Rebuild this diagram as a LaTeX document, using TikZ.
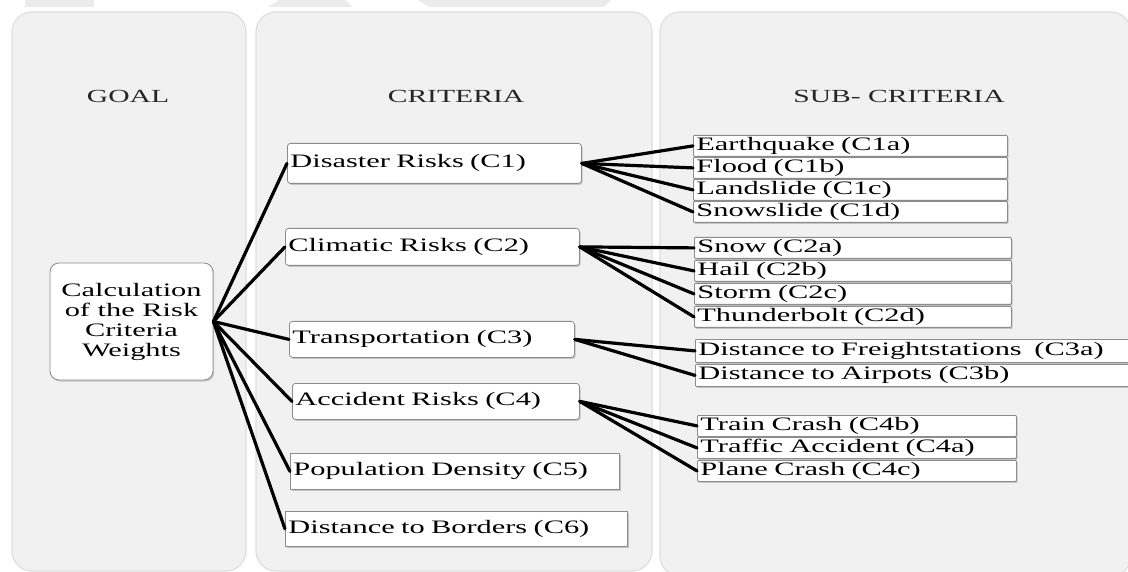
\documentclass[tikz,border=0pt]{standalone}
\usepackage{fontspec}
\setmainfont{Liberation Serif}[FakeStretch=1.6]
\usetikzlibrary{shadows}
\definecolor{panelgray}{HTML}{F1F1F1}
\definecolor{fraggray}{HTML}{EBEBEB}
\begin{document}
\begin{tikzpicture}[x=1pt,y=-1pt,
  panel/.style={fill=panelgray, draw=black!13, line width=1.2pt, rounded corners=20pt},
  frag/.style={fill=fraggray, draw=none},
  hdr/.style={font=\fontsize{18.5}{20}\selectfont, text=black!85, inner sep=0pt},
  box/.style={draw=black!45, fill=white, line width=0.8pt, anchor=north west,
    inner xsep=3pt, inner ysep=0pt, align=left, font=\fontsize{19}{20}\selectfont,
    drop shadow={shadow xshift=1.2pt, shadow yshift=-1.5pt, fill=black!40, opacity=0.5}},
  crit/.style={box, rounded corners=3pt},
  flat/.style={box, rounded corners=0pt},
  sub/.style={box, rounded corners=1pt},
  goalbox/.style={draw=black!45, fill=white, line width=0.8pt, rounded corners=9pt,
    align=center, font=\fontsize{19}{20}\selectfont, inner sep=0pt,
    drop shadow={shadow xshift=1.2pt, shadow yshift=-1.5pt, fill=black!40, opacity=0.5}},
  link/.style={line width=3.2pt, line cap=round}
]
\useasboundingbox (0,0) rectangle (1128,572);
\fill[white] (0,0) rectangle (1128,572);
% fragments of figure above
\path[frag] (25,0) rectangle (94,7);
\path[frag] (268,7) -- (279,0) -- (345,0) -- (352,7) -- cycle;
\path[frag] (417,0) -- (611,0) -- (604,7) -- (430,7) -- cycle;
% panels
\path[panel] (12,12) rectangle (246,571);
\path[panel] (256,12) rectangle (652,571);
\path[panel] (660,12) rectangle (1131,576);
% headers
\node[hdr] (hgoal) at (128,96) {GOAL};
\node[hdr] (hcrit) at (456,96) {CRITERIA};
\node[hdr] (hsub) at (899,96) {SUB- CRITERIA};
% goal
\node[goalbox, minimum width=163pt, minimum height=117pt] (goal) at (131.5,321.5)
  {Calculation\\of the Risk\\Criteria\\Weights};
% criteria
\node[crit, text width=288pt, minimum height=40pt] (c1) at (287,143) {Disaster Risks (C1)};
\node[crit, text width=288pt, minimum height=37pt] (c2) at (285,228) {Climatic Risks (C2)};
\node[crit, text width=279pt, minimum height=36pt] (c3) at (289,321) {Transportation (C3)};
\node[crit, text width=281pt, minimum height=36pt] (c4) at (292,383) {Accident Risks (C4)};
\node[flat, text width=323pt, minimum height=36pt] (c5) at (290,453) {Population Density (C5)};
\node[flat, text width=336pt, minimum height=35pt] (c6) at (285,511) {Distance to Borders (C6)};
% sub-criteria
\node[sub, text width=308pt, minimum height=21pt] (s1a) at (693,135) {Earthquake (C1a)};
\node[sub, text width=308pt, minimum height=21pt] (s1b) at (693,157) {Flood (C1b)};
\node[sub, text width=308pt, minimum height=21pt] (s1c) at (693,179) {Landslide (C1c)};
\node[sub, text width=308pt, minimum height=21pt] (s1d) at (693,201) {Snowslide (C1d)};
\node[sub, text width=311pt, minimum height=21pt] (s2a) at (694,237) {Snow (C2a)};
\node[sub, text width=311pt, minimum height=21pt] (s2b) at (694,260) {Hail (C2b)};
\node[sub, text width=311pt, minimum height=21pt] (s2c) at (694,283) {Storm (C2c)};
\node[sub, text width=311pt, minimum height=21pt] (s2d) at (694,306) {Thunderbolt (C2d)};
\node[sub, text width=433pt, minimum height=23pt] (s3a) at (695,339) {Distance to Freightstations\ \ (C3a)};
\node[sub, text width=433pt, minimum height=22pt] (s3b) at (695,364) {Distance to Airpots (C3b)};
\node[sub, text width=313pt, minimum height=21pt] (s4b) at (697,415) {Train Crash (C4b)};
\node[sub, text width=313pt, minimum height=21pt] (s4a) at (697,437) {Traffic Accident (C4a)};
\node[sub, text width=313pt, minimum height=21pt] (s4c) at (697,460) {Plane Crash (C4c)};
% connectors
\foreach \c in {c1,c2,c3,c4,c5,c6} \draw[link] (goal.east) -- (\c.west);
\foreach \s in {s1a,s1b,s1c,s1d} \draw[link] (c1.east) -- (\s.west);
\foreach \s in {s2a,s2b,s2c,s2d} \draw[link] (c2.east) -- (\s.west);
\foreach \s in {s3a,s3b} \draw[link] (c3.east) -- (\s.west);
\foreach \s in {s4b,s4a,s4c} \draw[link] (c4.east) -- (\s.west);
\end{tikzpicture}
\end{document}
